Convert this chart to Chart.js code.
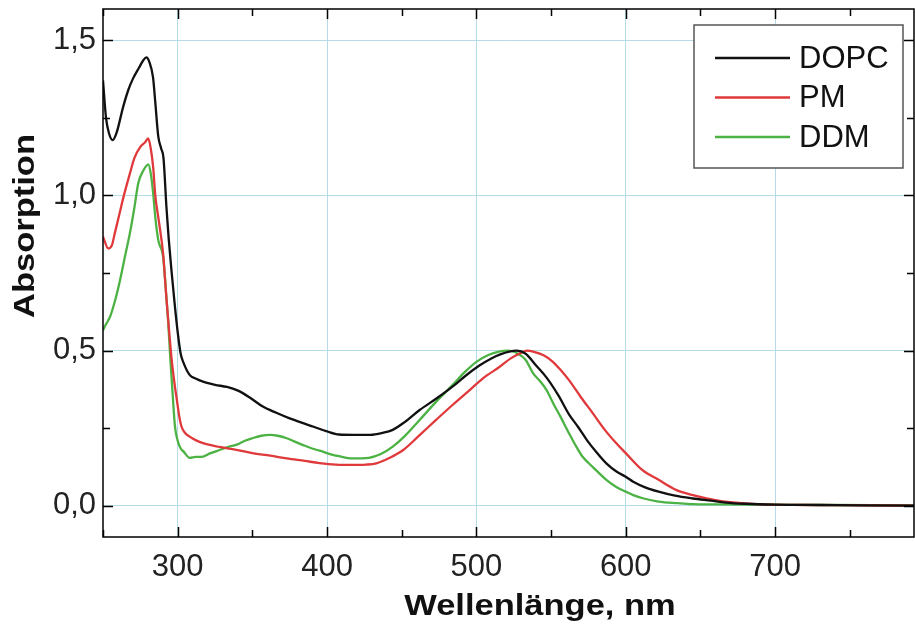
<!DOCTYPE html>
<html>
<head>
    <meta charset="UTF-8">
    <title>Absorption</title>
    <script src="https://cdn.jsdelivr.net/npm/chart.js"></script>
    <style>
        html, body { margin: 0; padding: 0; background: #fff; }
        #wrap { width: 915px; height: 632px; }
    </style>
</head>
<body>
    <div id="wrap"><canvas id="spec"></canvas></div>
    <script>
        // Daten
        const dopcNm = [250, 252, 254, 256.5, 259, 263.5, 267, 270, 274, 277, 279, 281, 283.5, 285, 287, 289, 290.5, 292.5, 294, 296, 298, 300, 302, 304, 308, 312, 317, 325, 333, 340, 348, 357, 366, 375, 383, 391, 400, 408, 418, 429, 437, 444, 452, 462, 473, 484, 493, 502, 510, 516, 522, 527, 533, 540, 547, 555, 562, 568, 574, 580, 587, 594, 600, 605, 613, 622, 633, 645, 657, 667, 680, 700, 730, 760, 793];
        const dopcAbs = [1.37, 1.25, 1.20, 1.178, 1.20, 1.285, 1.34, 1.375, 1.41, 1.435, 1.444, 1.43, 1.38, 1.30, 1.19, 1.15, 1.12, 0.96, 0.86, 0.75, 0.65, 0.56, 0.49, 0.46, 0.422, 0.41, 0.40, 0.39, 0.383, 0.372, 0.35, 0.32, 0.30, 0.282, 0.268, 0.255, 0.24, 0.23, 0.229, 0.229, 0.235, 0.245, 0.27, 0.309, 0.345, 0.384, 0.42, 0.452, 0.475, 0.488, 0.497, 0.5, 0.49, 0.452, 0.413, 0.355, 0.295, 0.255, 0.212, 0.175, 0.137, 0.11, 0.094, 0.078, 0.06, 0.046, 0.033, 0.024, 0.017, 0.011, 0.007, 0.004, 0.003, 0.002, 0.001];

        const pmNm = [250, 253.5, 256, 258, 261, 264, 268, 271, 275, 278, 280.3, 282, 283.6, 285, 287, 288.5, 290.3, 292.6, 294.5, 296, 298, 299.5, 301, 302.6, 305, 308, 312, 317, 328, 340, 350, 362, 373, 385, 395, 406, 417, 426, 433, 442, 451, 462, 473, 484, 495.5, 505, 515.6, 523, 529, 534, 538, 545, 551, 556, 562, 570, 578, 586, 594, 600, 611, 622, 634, 645, 660, 670, 690, 720, 760, 793];
        const pmAbs = [0.867, 0.829, 0.84, 0.88, 0.94, 1.0, 1.07, 1.12, 1.156, 1.17, 1.183, 1.15, 1.09, 1.0, 0.93, 0.88, 0.81, 0.66, 0.55, 0.47, 0.39, 0.34, 0.29, 0.255, 0.235, 0.223, 0.212, 0.202, 0.19, 0.18, 0.17, 0.162, 0.153, 0.145, 0.138, 0.133, 0.132, 0.133, 0.137, 0.155, 0.18, 0.228, 0.277, 0.325, 0.373, 0.413, 0.448, 0.475, 0.491, 0.5, 0.497, 0.485, 0.465, 0.44, 0.405, 0.35, 0.298, 0.245, 0.2, 0.17, 0.116, 0.084, 0.051, 0.035, 0.019, 0.012, 0.005, 0.003, 0.002, 0.001];

        const ddmNm = [250, 252, 254.7, 258, 261.4, 265, 268, 271, 273.6, 277, 280.3, 282, 283.6, 285, 287, 290.3, 292, 293.7, 295, 296.5, 298.2, 300, 302, 304, 308, 312, 317, 322, 328, 334, 340, 345, 350, 356, 362, 367, 373, 378, 384, 390, 395, 402, 408, 417, 428, 436, 444, 452, 462, 473, 484, 492, 500, 508, 515, 521, 526, 533, 538, 543, 547, 552, 556, 562, 567, 571, 578, 587, 594, 600, 605, 612, 622, 635, 645, 660, 700, 740, 793];
        const ddmAbs = [0.566, 0.585, 0.609, 0.66, 0.727, 0.81, 0.878, 0.96, 1.039, 1.08, 1.10, 1.07, 1.006, 0.93, 0.856, 0.80, 0.70, 0.588, 0.48, 0.37, 0.255, 0.21, 0.185, 0.175, 0.155, 0.158, 0.159, 0.17, 0.18, 0.19, 0.198, 0.21, 0.218, 0.226, 0.229, 0.226, 0.218, 0.208, 0.196, 0.185, 0.178, 0.167, 0.16, 0.153, 0.155, 0.167, 0.191, 0.225, 0.277, 0.335, 0.389, 0.43, 0.464, 0.486, 0.497, 0.5, 0.495, 0.47, 0.427, 0.40, 0.373, 0.325, 0.29, 0.234, 0.19, 0.159, 0.125, 0.084, 0.06, 0.046, 0.035, 0.024, 0.014, 0.009, 0.006, 0.005, 0.004, 0.003, 0.002];

        const seriesNames = ['DOPC', 'PM', 'DDM'];
        const seriesColors = ['#111111', '#e0393b', '#4cb244'];

        const xMajor = [300, 400, 500, 600, 700];
        const xMinor = [250, 350, 450, 550, 650, 750];
        const yMajor = [0, 0.5, 1.0, 1.5];
        const yMinor = [0.25, 0.75, 1.25];

        function pts(xs, ys) {
            return xs.map((x, i) => ({ x: x, y: ys[i] }));
        }

        const FONT = '"Liberation Sans", Arial, sans-serif';

        // Rahmen, Ticks nach innen, Achsentitel, Legende
        const decoPlugin = {
            id: 'deco',
            afterDraw(chart) {
                const c = chart.ctx;
                const a = chart.chartArea;
                const xs = chart.scales.x, ys = chart.scales.y;
                c.save();
                c.strokeStyle = '#000';
                c.lineWidth = 1.5;
                c.strokeRect(a.left, a.top, a.right - a.left, a.bottom - a.top);

                function tickX(v, len) {
                    const p = Math.round(xs.getPixelForValue(v)) + 0.5;
                    c.beginPath();
                    c.moveTo(p, a.bottom); c.lineTo(p, a.bottom - len);
                    c.moveTo(p, a.top); c.lineTo(p, a.top + len);
                    c.stroke();
                }
                function tickY(v, len) {
                    const p = Math.round(ys.getPixelForValue(v)) + 0.5;
                    c.beginPath();
                    c.moveTo(a.left, p); c.lineTo(a.left + len, p);
                    c.moveTo(a.right, p); c.lineTo(a.right - len, p);
                    c.stroke();
                }
                xMajor.forEach(v => tickX(v, 10));
                xMinor.forEach(v => tickX(v, 7));
                yMajor.forEach(v => tickY(v, 10));
                yMinor.forEach(v => tickY(v, 7));

                // Achsentitel (leicht breit gezogen wie im Original)
                c.fillStyle = '#111';
                c.font = 'bold 30px ' + FONT;
                c.textAlign = 'center';
                c.textBaseline = 'middle';
                c.save();
                c.translate(540, 607);
                c.scale(1.15, 1);
                c.fillText('Wellenlänge, nm', 0, 0);
                c.restore();
                c.save();
                c.translate(26, 226);
                c.rotate(-Math.PI / 2);
                c.scale(1.15, 1);
                c.fillText('Absorption', 0, 0);
                c.restore();

                // Legende
                const bx = 694, by = 25, bw = 209, bh = 143;
                c.fillStyle = '#fff';
                c.fillRect(bx, by, bw, bh);
                c.strokeStyle = '#555';
                c.lineWidth = 1.5;
                c.strokeRect(bx, by, bw, bh);
                c.font = '31px ' + FONT;
                c.textAlign = 'left';
                chart.data.datasets.forEach((ds, i) => {
                    const ly = 58 + i * 39.5;
                    c.strokeStyle = ds.borderColor;
                    c.lineWidth = 2.3;
                    c.beginPath();
                    c.moveTo(715, ly); c.lineTo(790, ly);
                    c.stroke();
                    c.fillStyle = '#111';
                    c.fillText(ds.label, 799, ly + 1);
                });
                c.restore();
            }
        };

        const bgPlugin = {
            id: 'bg',
            beforeDraw(chart) {
                const c = chart.ctx;
                c.save();
                c.fillStyle = '#fff';
                c.fillRect(0, 0, chart.width, chart.height);
                c.restore();
            }
        };

        const ctx = document.getElementById('spec').getContext('2d');
        const chart = new Chart(ctx, {
            type: 'line',
            data: {
                datasets: [
                    { label: seriesNames[0], data: pts(dopcNm, dopcAbs), borderColor: seriesColors[0] },
                    { label: seriesNames[1], data: pts(pmNm, pmAbs), borderColor: seriesColors[1] },
                    { label: seriesNames[2], data: pts(ddmNm, ddmAbs), borderColor: seriesColors[2] }
                ].map(d => Object.assign(d, {
                    borderWidth: 2.3,
                    pointRadius: 0,
                    fill: false,
                    cubicInterpolationMode: 'monotone'
                }))
            },
            options: {
                responsive: true,
                maintainAspectRatio: false,
                animation: false,
                layout: { padding: { top: 9, right: 1, left: 0, bottom: 0 } },
                plugins: {
                    legend: { display: false },
                    tooltip: { enabled: false }
                },
                scales: {
                    x: {
                        type: 'linear',
                        min: 250,
                        max: 793,
                        afterBuildTicks: s => { s.ticks = xMajor.map(v => ({ value: v })); },
                        afterFit: s => { s.height = 95; s.paddingLeft = 0; s.paddingRight = 0; },
                        grid: { color: '#b5dbe8', lineWidth: 1, drawTicks: false },
                        border: { display: false },
                        ticks: {
                            padding: 12,
                            color: '#222',
                            font: { family: FONT, size: 31 },
                            maxRotation: 0
                        }
                    },
                    y: {
                        type: 'linear',
                        min: -0.1,
                        max: 1.6,
                        afterBuildTicks: s => { s.ticks = yMajor.map(v => ({ value: v })); },
                        afterFit: s => { s.width = 103; s.paddingTop = 0; s.paddingBottom = 0; },
                        grid: { color: '#b5dbe8', lineWidth: 1, drawTicks: false },
                        border: { display: false },
                        ticks: {
                            padding: 7,
                            color: '#222',
                            font: { family: FONT, size: 31 },
                            callback: v => v.toFixed(1).replace('.', ',')
                        }
                    }
                }
            },
            plugins: [bgPlugin, decoPlugin]
        });
    </script>
</body>
</html>
